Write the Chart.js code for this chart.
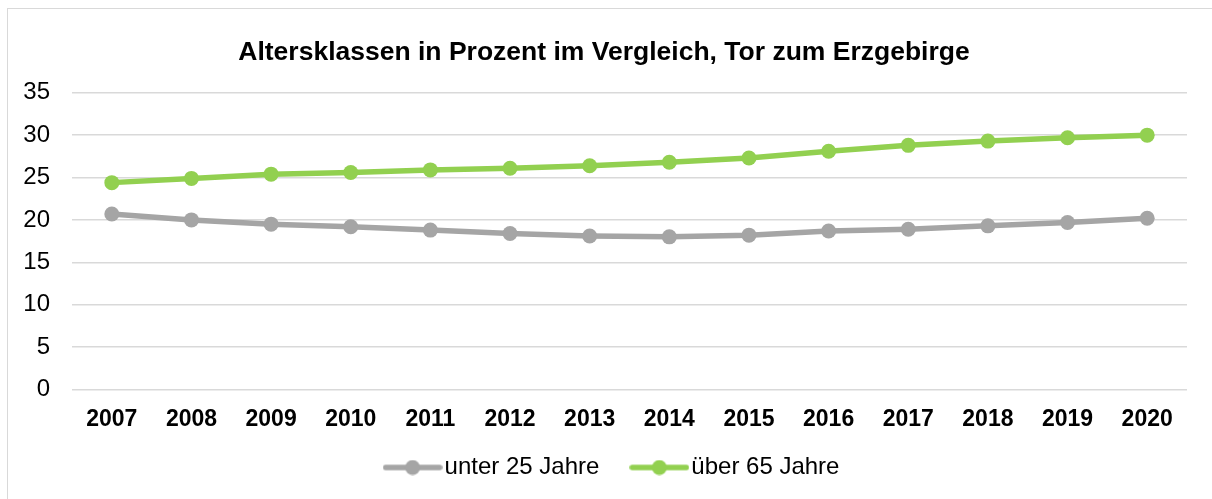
<!DOCTYPE html>
<html>
<head>
<meta charset="utf-8">
<script src="https://cdn.jsdelivr.net/npm/chart.js@4/dist/chart.umd.min.js"></script>
<style>
  body { margin: 0; background: #fff; }
  #frame { position: absolute; left: 7px; top: 8px; width: 1210px; height: 500px;
           border-left: 1px solid #d9d9d9; border-top: 1px solid #d9d9d9; }
  #wrap { position: absolute; left: 0; top: 0; width: 1212px; height: 499px; }
</style>
</head>
<body>
<div id="frame"></div>
<div id="wrap"><canvas id="chart" width="1212" height="499"></canvas></div>
<script>
// chart data
var years = ["2007", "2008", "2009", "2010", "2011", "2012", "2013", "2014", "2015", "2016", "2017", "2018", "2019", "2020"];
var unter25 = [20.7, 20.0, 19.5, 19.2, 18.8, 18.4, 18.1, 18.0, 18.2, 18.7, 18.9, 19.3, 19.7, 20.2];
var ueber65 = [24.4, 24.9, 25.4, 25.6, 25.9, 26.1, 26.4, 26.8, 27.3, 28.1, 28.8, 29.3, 29.7, 30.0];
var yTicks = [0, 5, 10, 15, 20, 25, 30, 35];

var grey = '#a5a5a5';
var green = '#92d050';

// little line + dot marker for the legend
function legendMarker(color) {
    var c = document.createElement('canvas');
    c.width = 60; c.height = 16;
    var g = c.getContext('2d');
    g.strokeStyle = color;
    g.lineWidth = 5.5;
    g.lineCap = 'round';
    g.beginPath(); g.moveTo(3, 8); g.lineTo(57, 8); g.stroke();
    g.fillStyle = color;
    g.beginPath(); g.arc(30, 8, 7.5, 0, Math.PI * 2); g.fill();
    return c;
}

// legend: fixed height, items moved a bit up and right, like the original
var legendTweak = {
    id: 'legendTweak',
    afterInit: function(chart) {
        var leg = chart.legend;
        var fit = leg.fit;
        leg.fit = function() {
            fit.call(this);
            this.height = 50;
        };
    },
    afterLayout: function(chart) {
        var leg = chart.legend;
        leg.left += 12;
        leg.right += 12;
        leg.top -= 33.5;
    }
};

var ctx = document.getElementById('chart').getContext('2d');
var chart = new Chart(ctx, {
    type: 'line',
    data: {
        labels: years,
        datasets: [{
            label: 'unter 25 Jahre',
            data: unter25,
            borderColor: grey,
            backgroundColor: grey,
            borderWidth: 5.5,
            pointRadius: 7.5,
            pointBorderWidth: 0,
            pointBackgroundColor: grey,
            tension: 0
        }, {
            label: 'über 65 Jahre',
            data: ueber65,
            borderColor: green,
            backgroundColor: green,
            borderWidth: 5.5,
            pointRadius: 7.5,
            pointBorderWidth: 0,
            pointBackgroundColor: green,
            tension: 0
        }]
    },
    plugins: [legendTweak],
    options: {
        responsive: false,
        animation: false,
        layout: { padding: { left: 21, right: 25, top: 0, bottom: 0 } },
        plugins: {
            title: {
                display: true,
                text: 'Altersklassen in Prozent im Vergleich, Tor zum Erzgebirge',
                color: '#000',
                font: { family: 'Liberation Sans', size: 26.5, weight: 'bold' },
                padding: { top: 37, bottom: 24 }
            },
            legend: {
                position: 'bottom',
                labels: {
                    color: '#000',
                    font: { family: 'Liberation Sans', size: 24 },
                    usePointStyle: true,
                    pointStyleWidth: 40,
                    padding: 40,
                    generateLabels: function(chart) {
                        return chart.data.datasets.map(function(ds, i) {
                            return {
                                text: ds.label,
                                fillStyle: ds.borderColor,
                                strokeStyle: ds.borderColor,
                                lineWidth: 0,
                                pointStyle: legendMarker(ds.borderColor),
                                datasetIndex: i,
                                fontColor: '#000'
                            };
                        });
                    }
                }
            },
            tooltip: { enabled: false }
        },
        scales: {
            x: {
                offset: true,
                grid: { display: false, drawTicks: false },
                border: { display: false },
                ticks: {
                    color: '#000',
                    padding: 16,
                    maxRotation: 0,
                    font: { family: 'Liberation Sans', size: 23, weight: 'bold' }
                }
            },
            y: {
                min: yTicks[0],
                max: yTicks[yTicks.length - 1],
                afterFit: function(scale) { scale.width = 51; },
                afterBuildTicks: function(scale) {
                    scale.ticks = yTicks.map(function(v) { return { value: v }; });
                },
                grid: { color: '#d9d9d9', lineWidth: 1.5, drawTicks: false },
                border: { display: false },
                ticks: {
                    color: '#000',
                    padding: 22,
                    font: { family: 'Liberation Sans', size: 24 }
                }
            }
        }
    }
});
</script>
</body>
</html>
